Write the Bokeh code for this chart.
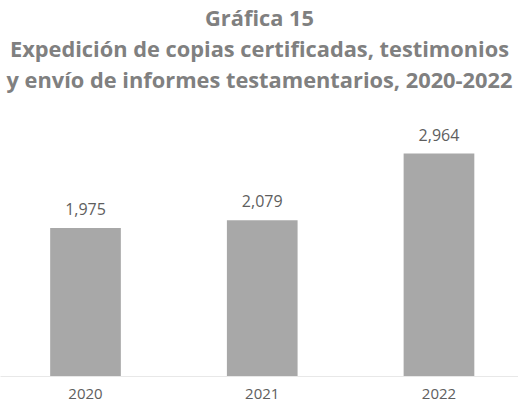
from bokeh.plotting import figure
from bokeh.models import Title, Range1d, FixedTicker, ColumnDataSource
from bokeh.core.properties import value
from bokeh.embed import file_html
from bokeh.resources import INLINE

# ---- data ----
years = [2020, 2021, 2022]
values = [1975, 2079, 2964]
value_labels = ["1,975", "2,079", "2,964"]
year_labels = ["2020", "2021", "2022"]
title_lines = [
    "Gráfica 15",
    "Expedición de copias certificadas, testimonios",
    "y envío de informes testamentarios, 2020-2022",
]

FONT = "Open Sans"
TITLE_COLOR = "#808080"
TEXT_COLOR = "#5e5e5e"
BAR_COLOR = "#a8a8a8"

FRAME_H = 283
PX_PER_UNIT = 0.0752

src = ColumnDataSource(dict(x=years, top=values, lab=value_labels))

p = figure(
    frame_width=518, frame_height=FRAME_H,
    x_range=Range1d(2019.519, 2022.450),
    y_range=Range1d(0, FRAME_H / PX_PER_UNIT),
    y_axis_location=None,
    output_backend="svg", toolbar_location=None,
    min_border=0, min_border_left=0, min_border_right=0,
    min_border_top=0, min_border_bottom=0,
    outline_line_color=None, background_fill_color="white",
    border_fill_color="white",
)
p.title.visible = False
for line in reversed(title_lines):
    p.add_layout(Title(text=line, align="center", text_font=FONT,
                       text_font_size="21.8px", text_font_style="bold",
                       text_color=TITLE_COLOR, standoff=0), "above")

p.xgrid.visible = False
p.ygrid.visible = False

p.vbar(x="x", top="top", width=0.4, bottom=0, source=src,
       fill_color=BAR_COLOR, line_color=None)

p.text(x="x", y="top", text="lab", source=src, text_align="center",
       text_baseline="alphabetic", y_offset=-19,
       text_font=value(FONT), text_font_size="16px", text_color=TEXT_COLOR)

ax = p.xaxis[0]
ax.ticker = FixedTicker(ticks=years)
ax.major_label_overrides = {y: l for y, l in zip(years, year_labels)}
ax.major_tick_line_color = None
ax.minor_tick_line_color = None
ax.axis_line_color = "#e8e8e8"
ax.axis_line_width = 1
ax.major_label_standoff = 6
ax.major_label_text_font = FONT
ax.major_label_text_font_size = "15px"
ax.major_label_text_color = TEXT_COLOR

open("out.html", "w").write(file_html(p, INLINE))
